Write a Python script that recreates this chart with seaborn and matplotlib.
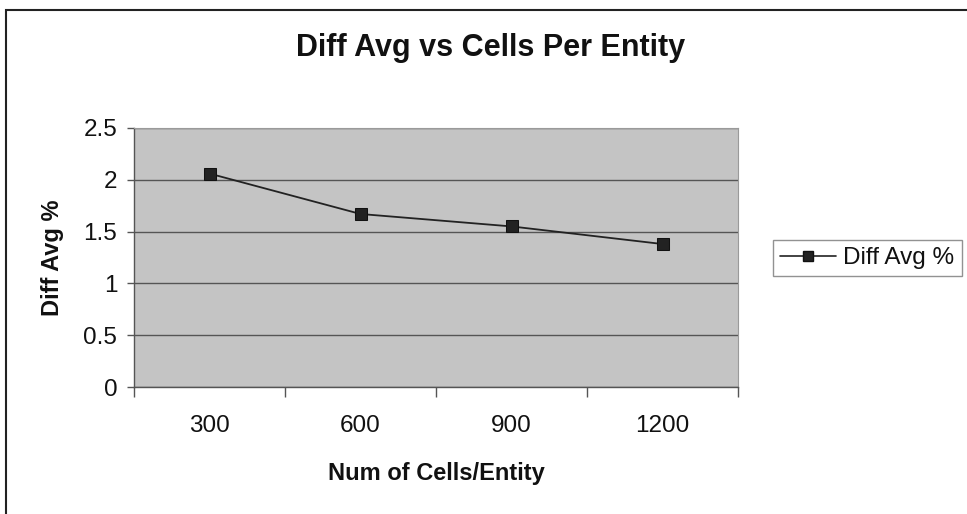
import matplotlib
matplotlib.use("Agg")
import matplotlib.pyplot as plt
import seaborn as sns
import pandas as pd
from matplotlib.patches import Rectangle
from matplotlib.lines import Line2D

categories = ["300", "600", "900", "1200"]
diff_avg = [2.06, 1.67, 1.55, 1.38]
y_ticks = [0, 0.5, 1, 1.5, 2, 2.5]
y_tick_labels = ["0", "0.5", "1", "1.5", "2", "2.5"]

sns.set_theme(style="white")
plt.rcParams['font.family'] = ['Liberation Sans', 'DejaVu Sans']

df = pd.DataFrame({"cells": categories, "diff": diff_avg})

fig = plt.figure(figsize=(9.67, 5.14), dpi=100)
ax = fig.add_axes([134/967, 1-387/514, (738-134)/967, (387-128)/514])
ax.set_facecolor("#c4c4c4")

sns.lineplot(data=df, x="cells", y="diff", ax=ax, color="#222222", marker="s",
             markersize=8, markeredgecolor="#111111", linewidth=1.3, sort=False)

ax.set_xlim(-0.5, len(categories) - 0.5)
ax.set_ylim(0, 2.5)
ax.set_yticks(y_ticks)
ax.set_yticklabels(y_tick_labels, fontsize=17.5, color="#111111")
ax.set_xticks(range(len(categories)))
ax.set_xticklabels(categories, fontsize=17.5, color="#111111")
ax.set_xticks([i - 0.5 for i in range(len(categories) + 1)], minor=True)
ax.tick_params(axis="x", which="major", bottom=True, length=0, pad=20)
ax.tick_params(axis="x", which="minor", bottom=True, length=7, color="#555555",
               width=1, direction="out")
ax.tick_params(axis="y", which="major", left=True, length=5, color="#555555",
               width=1, direction="out", pad=7)
ax.yaxis.grid(True, color="#555555", linewidth=1)
ax.set_axisbelow(True)
for s in ["left", "bottom"]:
    ax.spines[s].set_color("#555555")
    ax.spines[s].set_linewidth(1)
for s in ["top", "right"]:
    ax.spines[s].set_color("#9a9a9a")
    ax.spines[s].set_linewidth(0.8)

ax.set_xlabel("Num of Cells/Entity", fontsize=17, fontweight="bold", labelpad=18,
              color="#111111")
ax.set_ylabel("Diff Avg %", fontsize=17, fontweight="bold", labelpad=14,
              color="#111111")
fig.text(491/967, 1 - 48/514, "Diff Avg vs Cells Per Entity",
         fontsize=22, fontweight="bold", ha="center", va="center", color="#111111")

handle = Line2D([], [], color="#222222", marker="s", markersize=7, linewidth=1.2,
                markeredgecolor="#111111")
leg = fig.legend([handle], ["Diff Avg %"], loc="center left",
                 bbox_to_anchor=(773/967, 1 - 258/514), fontsize=17.5,
                 frameon=True, fancybox=False, edgecolor="#777777",
                 handlelength=2.3, borderpad=0.3, handletextpad=0.3,
                 borderaxespad=0)
leg.get_frame().set_linewidth(1)
for t in leg.get_texts():
    t.set_color("#111111")

fig.patches.append(Rectangle((6/967, -0.02), 0.995, 1 - 10/514 + 0.02,
                             transform=fig.transFigure, fill=False,
                             edgecolor="#222222", linewidth=1.5))

fig.savefig("out.png", dpi=100, facecolor="white")
